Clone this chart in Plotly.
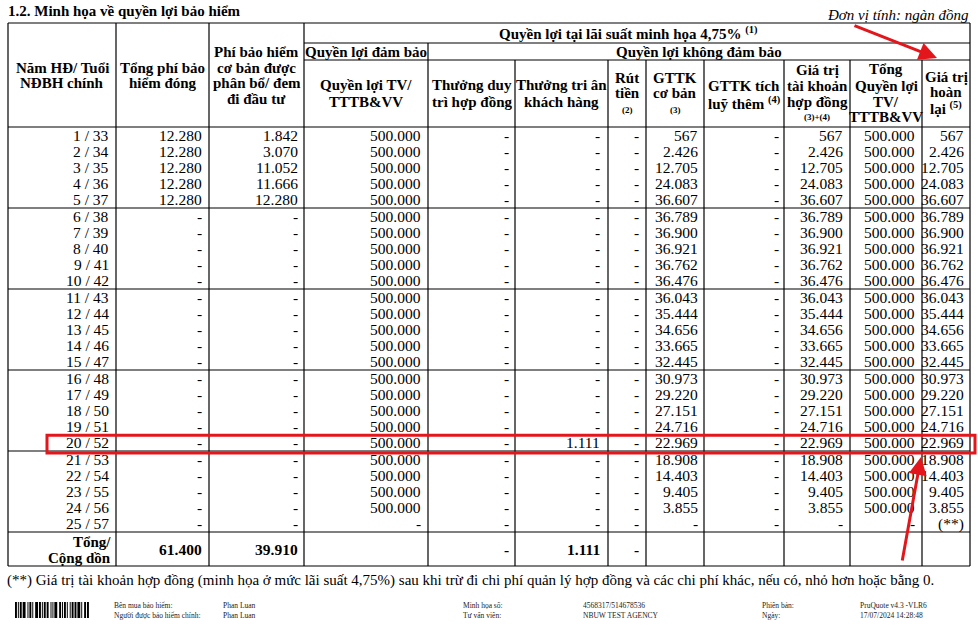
import plotly.graph_objects as go

# ------------------------------------------------------------------ data
nam_hd = [1, 2, 3, 4, 5, 6, 7, 8, 9, 10, 11, 12, 13, 14, 15, 16, 17, 18, 19, 20, 21, 22, 23, 24, 25]
tuoi = [33, 34, 35, 36, 37, 38, 39, 40, 41, 42, 43, 44, 45, 46, 47, 48, 49, 50, 51, 52, 53, 54, 55, 56, 57]
tong_phi_dong = [12280, 12280, 12280, 12280, 12280, None, None, None, None, None, None, None, None,
                 None, None, None, None, None, None, None, None, None, None, None, None]
phi_phan_bo = [1842, 3070, 11052, 11666, 12280, None, None, None, None, None, None, None, None,
               None, None, None, None, None, None, None, None, None, None, None, None]
quyen_loi_tv = [500000, 500000, 500000, 500000, 500000, 500000, 500000, 500000, 500000, 500000,
                500000, 500000, 500000, 500000, 500000, 500000, 500000, 500000, 500000, 500000,
                500000, 500000, 500000, 500000, None]
thuong_duy_tri = [None] * 25
thuong_tri_an = [None, None, None, None, None, None, None, None, None, None, None, None, None,
                 None, None, None, None, None, None, 1111, None, None, None, None, None]
rut_tien = [None] * 25
gttk_co_ban = [567, 2426, 12705, 24083, 36607, 36789, 36900, 36921, 36762, 36476, 36043, 35444,
               34656, 33665, 32445, 30973, 29220, 27151, 24716, 22969, 18908, 14403, 9405, 3855, None]
gttk_tich_luy = [None] * 25
gia_tri_tkhd = [567, 2426, 12705, 24083, 36607, 36789, 36900, 36921, 36762, 36476, 36043, 35444,
                34656, 33665, 32445, 30973, 29220, 27151, 24716, 22969, 18908, 14403, 9405, 3855, None]
tong_quyen_loi = [500000, 500000, 500000, 500000, 500000, 500000, 500000, 500000, 500000, 500000,
                  500000, 500000, 500000, 500000, 500000, 500000, 500000, 500000, 500000, 500000,
                  500000, 500000, 500000, 500000, None]
gia_tri_hoan_lai = [567, 2426, 12705, 24083, 36607, 36789, 36900, 36921, 36762, 36476, 36043, 35444,
                    34656, 33665, 32445, 30973, 29220, 27151, 24716, 22969, 18908, 14403, 9405, 3855, "(**)"]
tong_cong = ["Tổng/<br>Cộng dồn", 61400, 39910, "", None, 1111, None, "", "", "", "", ""]
highlight_year = 20

title = "1.2. Minh họa về quyền lợi bảo hiểm"
unit_note = "Đơn vị tính: ngàn đồng"
footnote = ("(**) Giá trị tài khoản hợp đồng (minh họa ở mức lãi suất 4,75%) sau khi trừ đi chi phí "
            "quản lý hợp đồng và các chi phí khác, nếu có, nhỏ hơn hoặc bằng 0.")
footer_left = [("Bên mua bảo hiểm:", "Phan Luan"), ("Người được bảo hiểm chính:", "Phan Luan")]
footer_mid = [("Minh họa số:", "4568317/514678536"), ("Tư vấn viên:", "NBUW TEST AGENCY")]
footer_right = [("Phiên bản:", "PruQuote v4.3 -VLR6"), ("Ngày:", "17/07/2024 14:28:48")]

# ------------------------------------------------------------------ layout constants
W, H = 978, 629
FONT = "Liberation Serif, Times New Roman, serif"
RED = "#e3161c"
col_x = [8, 116, 209, 304, 428, 515, 608, 646, 704, 784, 850, 922, 970]
y_top, y_h1, y_h2, y_body = 23, 43, 60, 127
row_h = 16.2
y_total_top, y_total_bot = 532, 566

fig = go.Figure()
fig.add_trace(go.Scatter(x=[0, W], y=[0, H], mode="markers", marker=dict(opacity=0),
                         hoverinfo="skip", showlegend=False))

shapes = []
ann = []


def line(x0, y0, x1, y1, w=1.2, color="black"):
    shapes.append(dict(type="line", xref="x", yref="y", x0=x0, y0=y0, x1=x1, y1=y1,
                       line=dict(color=color, width=w)))


def text(x, y, s, size=15.5, bold=False, anchor="center", italic=False, color="black"):
    ann.append(dict(x=x, y=y, xref="x", yref="y", text=s, showarrow=False,
                    xanchor=anchor, yanchor="middle", borderpad=0,
                    font=dict(family=FONT, size=size, color=color,
                              weight="bold" if bold else "normal",
                              style="italic" if italic else "normal")))


def fmt(v):
    if v is None:
        return "-"
    if isinstance(v, str):
        return v
    return f"{v:,}".replace(",", ".")


# ------------------------------------------------------------------ grid lines
line(col_x[0], y_top, col_x[-1], y_top)
line(col_x[3], y_h1, col_x[-1], y_h1)
line(col_x[3], y_h2, col_x[-1], y_h2)
line(col_x[0], y_body, col_x[-1], y_body)
for g in range(1, 5):
    yy = y_body + row_h * 5 * g
    line(col_x[0], yy, col_x[-1], yy)
line(col_x[0], y_total_top, col_x[-1], y_total_top)
line(col_x[0], y_total_bot, col_x[-1], y_total_bot)
for i, cx in enumerate(col_x):
    if i <= 3 or i == len(col_x) - 1:
        y0 = y_top
    elif i == 4:
        y0 = y_h1
    else:
        y0 = y_h2
    line(cx, y0, cx, y_total_bot)

# ------------------------------------------------------------------ headers
def mid(a, b):
    return (col_x[a] + col_x[b]) / 2


HB = 15
header_cells = [
    (mid(0, 1), [(68, "Năm HĐ/ Tuổi", HB), (83, "NĐBH chính", HB)]),
    (mid(1, 2), [(68, "Tổng phí bảo", HB), (83, "hiểm đóng", HB)]),
    (mid(2, 3), [(52, "Phí bảo hiểm", HB), (67.5, "cơ bản được", HB), (83, "phân bổ/ đem", HB), (99, "đi đầu tư", HB)]),
    (628, [(33, "Quyền lợi tại lãi suất minh họa 4,75% <sup>(1)</sup>", HB)]),
    (mid(3, 4), [(52, "Quyền lợi đảm bảo", HB)]),
    (mid(4, 12), [(52, "Quyền lợi không đảm bảo", HB)]),
    (mid(3, 4), [(85, "Quyền lợi TV/", HB), (102, "TTTB&amp;VV", HB)]),
    (mid(4, 5), [(85, "Thưởng duy", HB), (102, "trì hợp đồng", HB)]),
    (mid(5, 6), [(85, "Thưởng tri ân", HB), (102, "khách hàng", HB)]),
    (mid(6, 7), [(78, "Rút", HB), (93, "tiền", HB), (110, "(2)", 9)]),
    (mid(7, 8), [(78, "GTTK", HB), (93, "cơ bản", HB), (110, "(3)", 9)]),
    (mid(8, 9), [(86, "GTTK tích", HB), (103, "luỹ thêm <sup>(4)</sup>", HB)]),
    (mid(9, 10), [(70, "Giá trị", HB), (86, "tài khoản", HB), (102, "hợp đồng", HB), (117, "(3)+(4)", 9)]),
    (mid(10, 11), [(69, "Tổng", HB), (86, "Quyền lợi", HB), (102, "TV/", HB), (117, "TTTB&amp;VV", HB)]),
    (mid(11, 12), [(77, "Giá trị", HB), (92, "hoàn", HB), (108, "lại <sup>(5)</sup>", HB)]),
]
for cx, items in header_cells:
    for yy, s, sz in items:
        text(cx, yy, s, size=sz, bold=True)

# ------------------------------------------------------------------ body
labels = [f"{a} / {b}" for a, b in zip(nam_hd, tuoi)]
columns = [labels, tong_phi_dong, phi_phan_bo, quyen_loi_tv, thuong_duy_tri, thuong_tri_an,
           rut_tien, gttk_co_ban, gttk_tich_luy, gia_tri_tkhd, tong_quyen_loi, gia_tri_hoan_lai]
pad = [6, 6, 5, 6, 5, 7, 6, 5, 4, 6, 6, 5]
for r in range(len(nam_hd)):
    yy = y_body + row_h * (r + 0.5)
    for j, col in enumerate(columns):
        text(col_x[j + 1] - pad[j], yy, fmt(col[r]), anchor="right")

# total row
for j, v in enumerate(tong_cong):
    if v == "":
        continue
    if j == 0:
        text(col_x[1] - 4, 541.5, "Tổng/", size=15, bold=True, anchor="right")
        text(col_x[1] - 4, 557.5, "Cộng dồn", size=15, bold=True, anchor="right")
    else:
        text(col_x[j + 1] - pad[j], 549.5, fmt(v), size=15.5, bold=True, anchor="right")

# ------------------------------------------------------------------ titles & notes
text(7, 11, title, size=15, bold=True, anchor="left")
text(970, 15, unit_note, size=15, italic=True, anchor="right")
text(6, 580, footnote, size=15, anchor="left")

for k, (a, b) in enumerate(footer_left):
    text(113, 605 + 10 * k, a, size=7.5, anchor="left", color="#222")
    text(222, 605 + 10 * k, b, size=7.5, anchor="left", color="#222")
for k, (a, b) in enumerate(footer_mid):
    text(462, 605 + 10 * k, a, size=7.5, anchor="left", color="#222")
    text(582, 605 + 10 * k, b, size=7.5, anchor="left", color="#222")
for k, (a, b) in enumerate(footer_right):
    text(761, 605 + 10 * k, a, size=7.5, anchor="left", color="#222")
    text(859, 605 + 10 * k, b, size=7.5, anchor="left", color="#222")

# barcode decoration
barcode = "11010110111001011010011101101011011001010111001101011010010110110111010011011"
x0 = 15
i = 0
while i < len(barcode):
    if barcode[i] == "1":
        j = i
        while j < len(barcode) and barcode[j] == "1":
            j += 1
        shapes.append(dict(type="rect", xref="x", yref="y", x0=x0 + i * 0.96, x1=x0 + j * 0.96,
                           y0=602, y1=618, line=dict(width=0), fillcolor="black"))
        i = j
    else:
        i += 1

# ------------------------------------------------------------------ red highlight
hy = y_body + row_h * (highlight_year - 1)
shapes.append(dict(type="rect", xref="x", yref="y", x0=47, x1=975, y0=hy + 0.5, y1=hy + row_h + 2,
                   line=dict(color=RED, width=3), fillcolor="rgba(0,0,0,0)"))

ann.append(dict(x=937, y=58, ax=853, ay=25, xref="x", yref="y", axref="x", ayref="y",
                text="", showarrow=True, arrowhead=2, arrowsize=1.2, arrowwidth=3, arrowcolor=RED))
ann.append(dict(x=921, y=457, ax=902, ay=562, xref="x", yref="y", axref="x", ayref="y",
                text="", showarrow=True, arrowhead=2, arrowsize=1.2, arrowwidth=3, arrowcolor=RED))

fig.update_layout(
    width=W, height=H, margin=dict(l=0, r=0, t=0, b=0),
    paper_bgcolor="white", plot_bgcolor="white",
    xaxis=dict(range=[0, W], visible=False, fixedrange=True),
    yaxis=dict(range=[H, 0], visible=False, fixedrange=True),
    shapes=shapes, annotations=ann, showlegend=False,
)
fig.write_html("out.html", config={"displayModeBar": False},
               post_script="document.body.style.margin='0';document.body.style.overflow='hidden';")
